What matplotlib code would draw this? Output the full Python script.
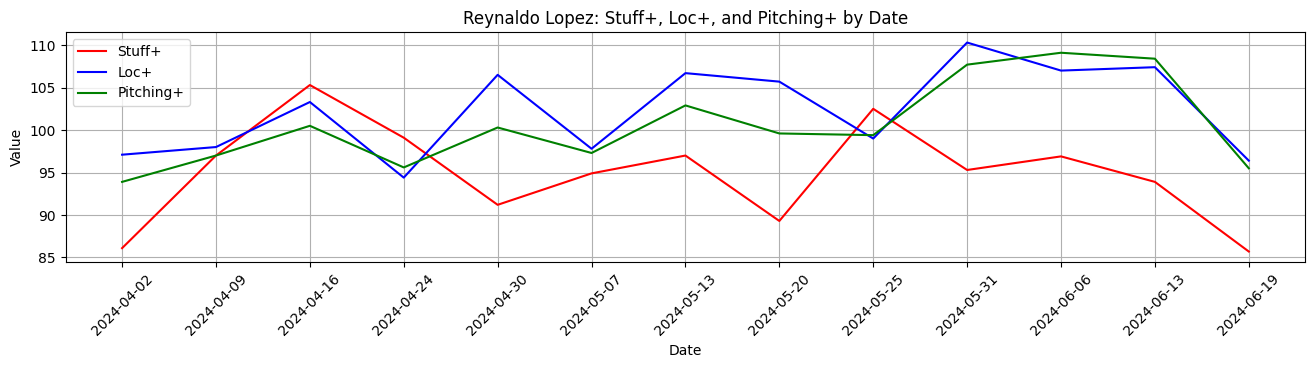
import matplotlib
matplotlib.use("Agg")
from matplotlib import pyplot as plt

dates = ["2024-04-02", "2024-04-09", "2024-04-16", "2024-04-24", "2024-04-30",
         "2024-05-07", "2024-05-13", "2024-05-20", "2024-05-25", "2024-05-31",
         "2024-06-06", "2024-06-13", "2024-06-19"]
stuff_plus = [86.1, 97.0, 105.3, 99.1, 91.2, 94.9, 97.0, 89.3, 102.5, 95.3, 96.9, 93.9, 85.7]
loc_plus = [97.1, 98.0, 103.3, 94.4, 106.5, 97.8, 106.7, 105.7, 99.0, 110.3, 107.0, 107.4, 96.4]
pitching_plus = [93.9, 97.0, 100.5, 95.6, 100.3, 97.3, 102.9, 99.6, 99.4, 107.7, 109.1, 108.4, 95.5]


def main():
    fig = plt.figure(figsize=(13.15, 3.69), dpi=100)
    plt.plot(dates, stuff_plus, color="red", label="Stuff+")
    plt.plot(dates, loc_plus, color="blue", label="Loc+")
    plt.plot(dates, pitching_plus, color="green", label="Pitching+")
    plt.title("Reynaldo Lopez: Stuff+, Loc+, and Pitching+ by Date")
    plt.xlabel("Date")
    plt.ylabel("Value")
    plt.xticks(rotation=45)
    plt.legend(loc="upper left")
    plt.grid()
    plt.subplots_adjust(left=0.050, right=0.9925, top=0.913, bottom=0.29)
    fig.savefig("out.png")


if __name__ == "__main__":
    main()
